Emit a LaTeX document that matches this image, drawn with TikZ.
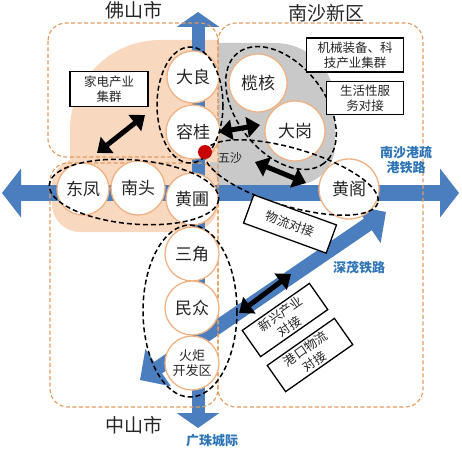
\documentclass[tikz,border=0pt]{standalone}
\usepackage{fontspec}
\setmainfont{Noto Sans CJK SC}
\usetikzlibrary{arrows.meta,calc,positioning}
\definecolor{railBlue}{HTML}{4A7EBF}
\definecolor{labelBlue}{HTML}{2E75B6}
\definecolor{zoneOrange}{HTML}{E39A5C}
\definecolor{townOrange}{HTML}{F0B283}
\definecolor{peachZone}{HTML}{F9D8C0}
\definecolor{greyZone}{HTML}{C9C9C9}
\definecolor{wuRed}{HTML}{C80000}
\definecolor{inkGrey}{HTML}{262626}

\begin{document}
\begin{tikzpicture}[x=1pt,y=-1pt,
  town/.style={circle,draw=townOrange,line width=1.3pt,fill=white,inner sep=0pt,
    minimum size=54pt,text=inkGrey,font=\fontsize{17}{18}\selectfont},
  zoneBox/.style={draw=zoneOrange,line width=1.1pt,dash pattern=on 4pt off 2.5pt,rounded corners=18pt},
  townGroup/.style={draw=black,line width=1.5pt,dash pattern=on 5pt off 3pt},
  rail/.style={railBlue,line width=16pt,{Triangle[length=19pt,width=48pt]}-{Triangle[length=19pt,width=48pt]}},
  linkArrow/.style={line width=5pt,{Triangle[length=13pt,width=20pt]}-{Triangle[length=13pt,width=20pt]}},
  tagBox/.style={draw=black,line width=1.3pt,fill=white,align=center,inner sep=1pt,
    text=inkGrey,font=\fontsize{12.5}{15}\selectfont},
  cityName/.style={text=inkGrey,font=\fontsize{19}{20}\selectfont},
  railName/.style={text=labelBlue,align=center,font=\bfseries\fontsize{13}{15}\selectfont}]
\useasboundingbox (0,0) rectangle (462,449);

% shaded areas
\fill[greyZone] (210,43) -- (275,43) arc[start angle=-90,end angle=0,radius=60]
  -- (335,145) arc[start angle=0,end angle=90,radius=40] -- (210,185) -- cycle;
\fill[peachZone] (218,40) -- (160,40) arc[start angle=-90,end angle=-180,radius=90]
  -- (70,162) -- (218,162) -- cycle;
\fill[peachZone,rounded corners=28pt] (52,158) rectangle (218,232);

% railways
\coordinate (railW) at (2,193);
\coordinate (railE) at (459,193);
\coordinate (railN) at (198,12);
\coordinate (railS) at (198,428);
\coordinate (railSW) at (140,380);
\coordinate (railNE) at (386,212);
\draw[rail] (railW) -- (railE);
\draw[rail,line width=13pt,{Triangle[length=15pt,width=42pt]}-{Triangle[length=15pt,width=42pt]}] (railN) -- (railS);
\draw[rail,line width=14pt,{Triangle[length=22pt,width=44pt]}-{Triangle[length=22pt,width=44pt]}] (railSW) -- (railNE);

% city zones
\draw[zoneBox] (48,23) rectangle (218,157);
\draw[zoneBox] (50,163) rectangle (218,407);
\draw[zoneBox] (218,23) rectangle (423,407);

% towns
\node[town,minimum size=52pt] (daliang) at (193,77) {大良};
\node[town] (ronggui) at (193,132) {容桂};
\node[town,minimum size=52pt] (dongfeng) at (83,189) {东凤};
\node[town] (nantou) at (138,188) {南头};
\node[town,minimum size=52pt] (huangpu) at (192,199) {黄圃};
\node[town,minimum size=58pt] (lanhe) at (258,83) {榄核};
\node[town,minimum size=60pt] (dagang) at (295,131) {大岗};
\node[town,minimum size=60pt] (huangge) at (349,189) {黄阁};
\node[town] (sanjiao) at (192,254) {三角};
\node[town] (minzhong) at (192,308) {民众};
\node[town,align=center,font=\fontsize{13}{15}\selectfont] (huoju) at (192,363) {火炬\\开发区};

% groupings
\draw[townGroup] (190,105) ellipse[x radius=33,y radius=58];
\draw[townGroup,rotate around={-52:(281,108)}] (281,108) ellipse[x radius=70,y radius=44];
\draw[townGroup,rotate around={-5:(134,192)}] (134,192) ellipse[x radius=85,y radius=32];
\draw[townGroup] (190,311) ellipse[x radius=47,y radius=86];
\draw[townGroup,rotate around={-16.4:(291.5,177.5)}] (291.5,177.5) ellipse[x radius=90,y radius=29];

\node[circle,fill=wuRed,minimum size=14pt,inner sep=0pt] (wusha) at (205,152) {};
\node[text=inkGrey,font=\fontsize{12}{12}\selectfont] (wushaName) at (230,158) {五沙};

% links
\coordinate (jdLow) at (97,153);
\coordinate (jdHigh) at (145,115);
\coordinate (rgEast) at (219,132);
\coordinate (dgWest) at (260,125);
\coordinate (wsEast) at (255,162);
\coordinate (hgWest) at (306,183);
\coordinate (smLow) at (239,313);
\coordinate (smHigh) at (291,274);
\draw[linkArrow] (jdLow) -- (jdHigh);
\draw[linkArrow] (rgEast) -- (dgWest);
\draw[linkArrow] (wsEast) -- (hgWest);
\draw[linkArrow] (smLow) -- (smHigh);

% industry tags
\node[tagBox,minimum width=78pt,minimum height=35pt] (jiadian) at (109,89) {家电产业\\集群};
\node[tagBox,minimum width=97pt,minimum height=34pt] (jixie) at (355,55) {机械装备、科\\技产业集群};
\node[tagBox,minimum width=77pt,minimum height=33pt] (shenghuo) at (365,98) {生活性服\\务对接};
\node[tagBox,minimum width=88pt,minimum height=30pt,rotate=-20] (wuliu) at (290,224) {物流对接};
\node[tagBox,minimum width=82pt,minimum height=32pt,rotate=35,font=\fontsize{12.5}{15}\selectfont] (xinxing) at (285,320) {新兴产业\\对接};
\node[tagBox,minimum width=82pt,minimum height=32pt,rotate=35,font=\fontsize{12.5}{15}\selectfont] (gangkou) at (310,355) {港口物流\\对接};

% names
\node[cityName] (foshan) at (134,10) {佛山市};
\node[cityName] (nansha) at (326,13) {南沙新区};
\node[cityName] (zhongshan) at (134,425) {中山市};
\node[railName] (guangzhu) at (212,441) {广珠城际};
\node[railName] (nanshaRail) at (406,160) {南沙港疏\\港铁路};
\node[railName] (shenmao) at (359,268) {深茂铁路};
\end{tikzpicture}
\end{document}
